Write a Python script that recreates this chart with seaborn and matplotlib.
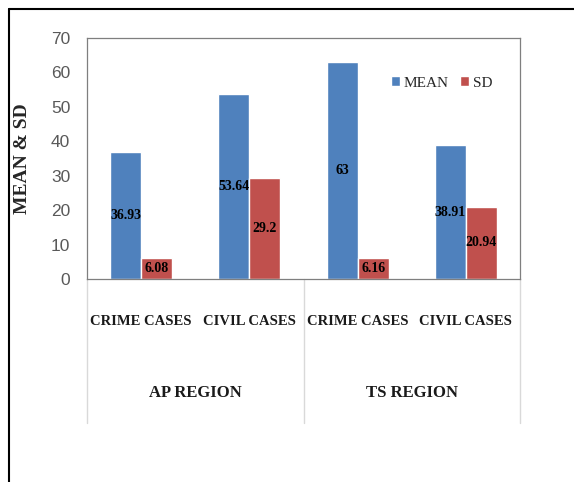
import matplotlib
matplotlib.use("Agg")
import matplotlib.pyplot as plt
import seaborn as sns
import pandas as pd
from matplotlib.lines import Line2D

regions = ["AP REGION", "AP REGION", "TS REGION", "TS REGION"]
cases = ["CRIME CASES", "CIVIL CASES", "CRIME CASES", "CIVIL CASES"]
mean_vals = [36.93, 53.64, 63, 38.91]
sd_vals = [6.08, 29.2, 6.16, 20.94]
region_labels = ["AP REGION", "TS REGION"]
y_ticks = [0, 10, 20, 30, 40, 50, 60, 70]

keys = [f"{r}|{c}" for r, c in zip(regions, cases)]
df = pd.DataFrame({
    "key": keys * 2,
    "value": mean_vals + sd_vals,
    "stat": ["MEAN"] * 4 + ["SD"] * 4,
})

sns.set_theme(style="white")
plt.rcParams["font.family"] = ["Liberation Serif", "DejaVu Serif"]

fig = plt.figure(figsize=(5.74, 4.82), dpi=100)
ax = fig.add_axes([87 / 574, 1 - 279 / 482, (520 - 87) / 574, (279 - 38) / 482])

blue, red = "#4F81BD", "#C0504D"
sns.barplot(data=df, x="key", y="value", hue="stat", order=keys,
            hue_order=["MEAN", "SD"], palette=[blue, red], saturation=1,
            width=0.574, ax=ax, errorbar=None)

for cont, vals in zip(ax.containers, [mean_vals, sd_vals]):
    ax.bar_label(cont, labels=[f"{v:g}" for v in vals], label_type="center",
                 fontsize=10, fontweight="bold", color="black",
                 family=["Liberation Serif"])

ax.set_ylim(0, 70)
ax.set_yticks(y_ticks)
ax.set_yticklabels([str(t) for t in y_ticks], fontsize=12.5, color="#595959",
                   family=["Liberation Sans"])
ax.set_xlim(-0.5, 3.5)
ax.set_xticks(range(4))
ax.set_xticklabels(cases, fontsize=10.5, fontweight="bold", color="#1a1a1a")
ax.tick_params(axis="both", length=0)
ax.tick_params(axis="x", pad=26)
ax.tick_params(axis="y", pad=12)
ax.set_xlabel("")
ax.set_ylabel("MEAN & SD", fontsize=14, fontweight="bold")
ax.yaxis.set_label_coords((31 - 87) / 433, 0.5)

for s in ax.spines.values():
    s.set_color("#7f7f7f")
    s.set_linewidth(0.9)

# category group separators and region labels
sep_bottom = -(423 - 279) / 241
for xa in [0.0, 0.5, 1.0]:
    ax.add_line(Line2D([xa, xa], [0, sep_bottom], transform=ax.transAxes,
                       color="#d9d9d9", lw=1, clip_on=False))
for i, lab in enumerate(region_labels):
    ax.text(0.25 + 0.5 * i, -(393 - 279) / 241, lab, transform=ax.transAxes,
            ha="center", va="center", fontsize=12, fontweight="bold",
            color="#1a1a1a")

leg = ax.legend(loc="center left", bbox_to_anchor=(0.67, 0.813), ncol=2,
                frameon=False, handlelength=0.6, handleheight=0.6,
                handletextpad=0.2, columnspacing=0.8, fontsize=11)

# outer frame
fig.add_artist(Line2D([9 / 574, 9 / 574], [1 - 9 / 482, 0], color="black", lw=1.5))
fig.add_artist(Line2D([9 / 574, 1], [1 - 9 / 482, 1 - 9 / 482], color="black", lw=1.5))

fig.savefig("out.png", dpi=100)
